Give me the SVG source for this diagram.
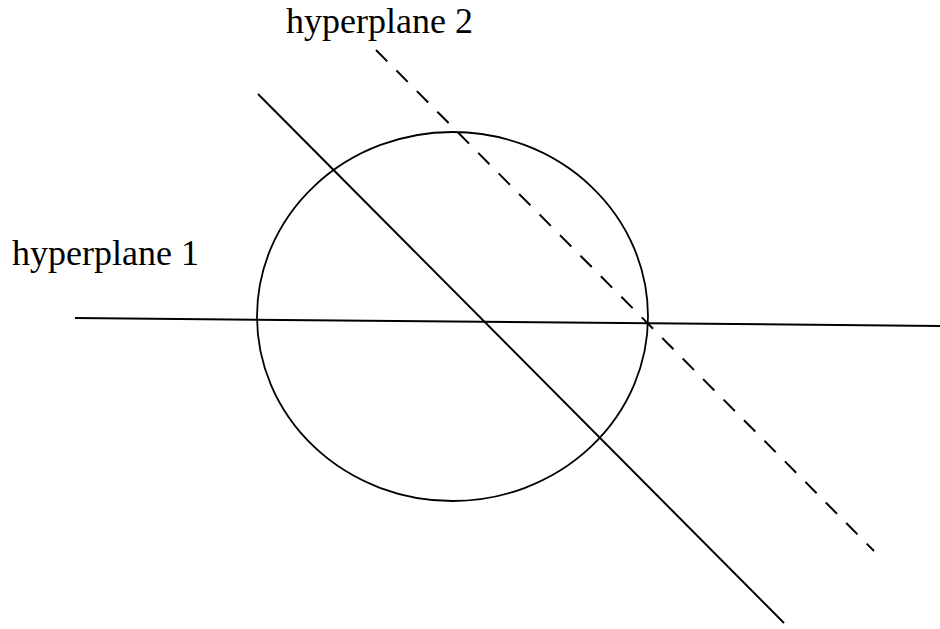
<svg xmlns="http://www.w3.org/2000/svg" width="940" height="629" viewBox="0 0 940 629">
<style>
.lbl{font-family:"Liberation Serif","Times New Roman",serif;font-size:36px;fill:#000}
.ln{stroke:#000;stroke-width:2;fill:none}
.dash{stroke-dasharray:16 13}
</style>
<rect width="940" height="629" fill="#fff"/>
<g id="circle"><ellipse cx="452.5" cy="316.5" rx="195.5" ry="184.5" fill="none" stroke="#000" stroke-width="1.8"/></g>
<g id="connectors">
<line id="hyperplane1-line" class="ln" x1="75" y1="318" x2="940" y2="326"/>
<line id="solid-diagonal" class="ln" x1="258" y1="94" x2="784" y2="623"/>
<line id="hyperplane2-line" class="ln dash" x1="376" y1="50" x2="874" y2="551"/>
</g>
<g id="label-hyperplane2"><text class="lbl" x="286" y="32.5">hyperplane 2</text></g>
<g id="label-hyperplane1"><text class="lbl" x="12" y="265">hyperplane 1</text></g>
</svg>
